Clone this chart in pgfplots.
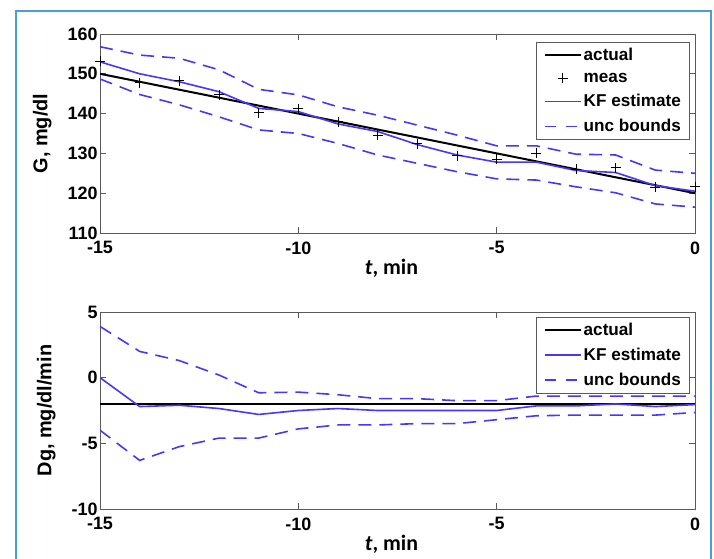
\documentclass[border=0pt]{standalone}
\usepackage{pgfplots}
\pgfplotsset{compat=1.18}
\usepackage{fontspec}
\setmainfont{Liberation Sans}
\newfontfamily\carlito{Carlito}
\definecolor{kfblue}{RGB}{72,56,245}
\definecolor{frame}{RGB}{74,158,214}
\definecolor{axgray}{RGB}{90,90,90}

\pgfplotsset{
  kfaxis/.style={
    scale only axis, width=595bp, anchor=south west,
    xmin=-15, xmax=0, xtick={-15,-10,-5,0},
    tick align=inside, major tick length=6bp,
    axis line style={axgray, line width=0.8bp},
    tick style={axgray, line width=0.8bp},
    ticklabel style={font=\fontsize{18}{20}\selectfont\bfseries},
    /pgf/number format/assume math mode=true,
    xticklabel style={yshift=-5bp},
    yticklabel style={xshift=1bp},
    xlabel={\carlito\fontsize{22}{24}\selectfont\bfseries\textit{t}, min},
    xlabel style={at={(0.49,0)}, yshift=-23bp},
    ylabel style={font=\fontsize{20}{22}\selectfont\bfseries, yshift=9bp},
    legend style={draw=axgray, line width=0.8bp, font=\fontsize{17.2}{19}\selectfont\bfseries,
      inner xsep=7bp, inner ysep=4bp, row sep=7bp, anchor=north east},
    legend cell align=left,
  },
  lineleg/.style={legend image code/.code={\draw[##1] (0bp,0bp) -- (36bp,0bp);}},
  markleg/.style={legend image code/.code={\draw[##1] plot coordinates {(18bp,0bp)};}},
}

\begin{document}
\begin{tikzpicture}
\path[use as bounding box] (0bp,0bp) rectangle (714bp,559bp);
\draw[frame, line width=2.2bp] (16bp,-2bp) -- (16bp,548bp) -- (711bp,548bp) -- (711bp,-2bp);

\begin{axis}[kfaxis, at={(100bp,326bp)}, height=199bp,
  ymin=110, ymax=160, ytick={110,120,...,160},
  ylabel={G, mg/dl},
  legend style={at={(0.992,0.962)}}]
\addplot[black, line width=2bp, forget plot] coordinates {(-15,150) (0,120)};
\addplot[only marks, mark=+, mark size=5bp, black, line width=1bp, forget plot] coordinates {
(-15,153.2) (-14,147.8) (-13,148.2) (-12,144.7) (-11,140.2) (-10,141.2) (-9,138.0) (-8,134.6)
(-7,132.4) (-6,129.4) (-5,128.5) (-4,130.0) (-3,126.0) (-2,126.4) (-1,121.5) (0,121.6)};
\addplot[kfblue, line width=1.6bp, forget plot] coordinates {
(-15,153.0) (-14,150.0) (-13,148.0) (-12,145.5) (-11,141.3) (-10,140.5) (-9,137.4) (-8,135.5)
(-7,132.2) (-6,129.6) (-5,127.8) (-4,127.8) (-3,125.7) (-2,125.2) (-1,121.9) (0,120.5)};
\addplot[kfblue, line width=1.6bp, dash pattern=on 13bp off 8bp, forget plot] coordinates {
(-15,156.8) (-14,154.7) (-13,153.9) (-12,151.0) (-11,146.1) (-10,144.7) (-9,141.7) (-8,139.6)
(-7,137.1) (-6,134.6) (-5,131.9) (-4,131.9) (-3,129.8) (-2,129.6) (-1,125.8) (0,125.0)};
\addplot[kfblue, line width=1.6bp, dash pattern=on 13bp off 8bp, forget plot] coordinates {
(-15,148.7) (-14,144.8) (-13,142.2) (-12,139.2) (-11,135.9) (-10,135.0) (-9,132.5) (-8,129.6)
(-7,127.5) (-6,125.4) (-5,123.6) (-4,123.3) (-3,121.6) (-2,120.1) (-1,117.3) (0,116.5)};
\addlegendimage{lineleg, black, line width=2bp}
\addlegendentry{actual}
\addlegendimage{markleg, only marks, mark=+, mark size=5bp, black, line width=1bp}
\addlegendentry{meas}
\addlegendimage{lineleg, kfblue, line width=1.8bp}
\addlegendentry{KF estimate}
\addlegendimage{lineleg, kfblue, line width=1.8bp, dash pattern=on 11bp off 10bp}
\addlegendentry{unc bounds\hspace{10bp}}
\end{axis}

\begin{axis}[kfaxis, at={(100bp,50bp)}, height=197bp,
  ymin=-10, ymax=5, ytick={-10,-5,0,5},
  ylabel={Dg, mg/dl/min},
  legend style={at={(0.992,0.975)}}]
\addplot[black, line width=2bp, forget plot] coordinates {(-15,-2) (0,-2)};
\addplot[kfblue, line width=1.6bp, forget plot] coordinates {
(-15,0.0) (-14,-2.2) (-13,-2.1) (-12,-2.35) (-11,-2.8) (-10,-2.5) (-9,-2.35) (-8,-2.5)
(-7,-2.5) (-6,-2.5) (-5,-2.5) (-4,-2.15) (-3,-2.15) (-2,-2.0) (-1,-2.2) (0,-2.05)};
\addplot[kfblue, line width=1.6bp, dash pattern=on 13bp off 8bp, forget plot] coordinates {
(-15,3.9) (-14,2.0) (-13,1.3) (-12,0.2) (-11,-1.15) (-10,-1.1) (-9,-1.3) (-8,-1.6)
(-7,-1.6) (-6,-1.75) (-5,-1.75) (-4,-1.4) (-3,-1.4) (-2,-1.4) (-1,-1.4) (0,-1.4)};
\addplot[kfblue, line width=1.6bp, dash pattern=on 13bp off 8bp, forget plot] coordinates {
(-15,-4.0) (-14,-6.3) (-13,-5.25) (-12,-4.6) (-11,-4.6) (-10,-3.9) (-9,-3.6) (-8,-3.6)
(-7,-3.5) (-6,-3.5) (-5,-3.2) (-4,-2.9) (-3,-2.85) (-2,-2.85) (-1,-2.85) (0,-2.65)};
\addlegendimage{lineleg, black, line width=2bp}
\addlegendentry{actual}
\addlegendimage{lineleg, kfblue, line width=1.8bp}
\addlegendentry{KF estimate}
\addlegendimage{lineleg, kfblue, line width=1.8bp, dash pattern=on 11bp off 10bp}
\addlegendentry{unc bounds\hspace{10bp}}
\end{axis}
\end{tikzpicture}
\end{document}
